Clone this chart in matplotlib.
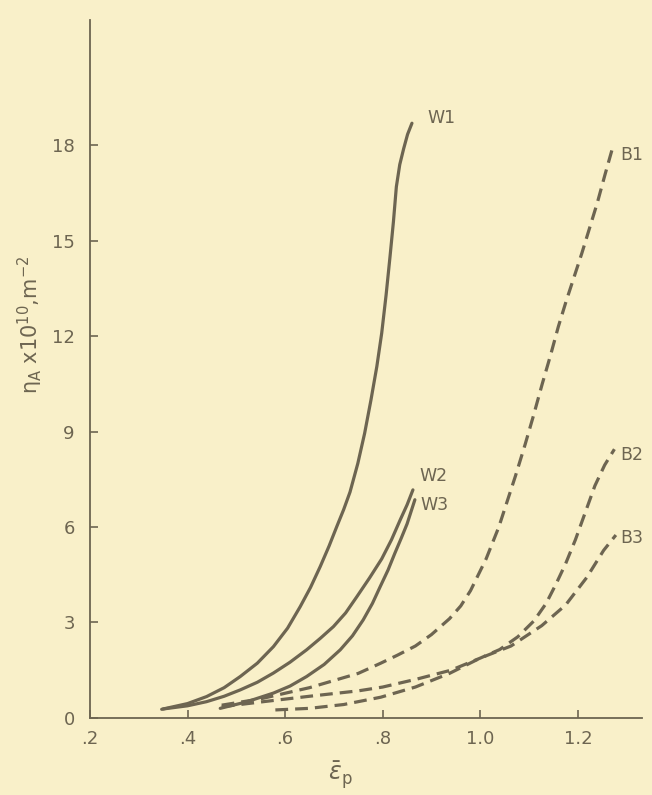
import matplotlib
matplotlib.use("Agg")
import matplotlib.pyplot as plt

# curves (x = strain, y = eta_A x 1e10)
w1_x = [0.347, 0.400, 0.439, 0.475, 0.508, 0.543, 0.576, 0.605, 0.631, 0.652, 0.672, 0.690, 0.706, 0.720, 0.733,
        0.749, 0.763, 0.776, 0.788, 0.798, 0.807, 0.815, 0.822, 0.828, 0.835, 0.843, 0.851, 0.860]
w1_y = [0.27, 0.45, 0.67, 0.95, 1.30, 1.72, 2.24, 2.82, 3.50, 4.10, 4.76, 5.40, 6.02, 6.55, 7.10,
        8.00, 8.95, 10.0, 11.05, 12.1, 13.3, 14.5, 15.6, 16.7, 17.4, 17.9, 18.35, 18.7]

w2_x = [0.350, 0.400, 0.439, 0.475, 0.508, 0.543, 0.576, 0.610, 0.644, 0.672, 0.699, 0.724, 0.747, 0.773, 0.798, 0.818, 0.836, 0.850, 0.862]
w2_y = [0.28, 0.38, 0.51, 0.68, 0.88, 1.12, 1.41, 1.75, 2.14, 2.50, 2.87, 3.30, 3.81, 4.40, 5.00, 5.60, 6.23, 6.70, 7.17]

w3_x = [0.467, 0.520, 0.576, 0.610, 0.644, 0.680, 0.713, 0.738, 0.760, 0.779, 0.795, 0.811, 0.825, 0.838, 0.850, 0.866]
w3_y = [0.30, 0.50, 0.78, 1.00, 1.30, 1.68, 2.14, 2.58, 3.08, 3.60, 4.13, 4.65, 5.18, 5.65, 6.10, 6.86]

b1_x = [0.47, 0.55, 0.65, 0.75, 0.796, 0.830, 0.867, 0.900, 0.937, 0.960, 0.980, 1.012, 1.038, 1.055, 1.072, 1.092, 1.109,
        1.127, 1.144, 1.160, 1.176, 1.192, 1.208, 1.224, 1.240, 1.256, 1.270]
b1_y = [0.40, 0.60, 0.95, 1.40, 1.72, 1.97, 2.26, 2.62, 3.12, 3.52, 4.00, 5.00, 6.00, 6.80, 7.60, 8.60, 9.50,
        10.5, 11.4, 12.3, 13.1, 13.85, 14.6, 15.4, 16.2, 17.1, 17.86]

b2_x = [0.47, 0.55, 0.65, 0.75, 0.80, 0.87, 0.94, 1.00, 1.04, 1.077, 1.11, 1.135, 1.155, 1.175, 1.195, 1.215, 1.235, 1.255, 1.275]
b2_y = [0.35, 0.50, 0.68, 0.85, 0.97, 1.22, 1.50, 1.88, 2.15, 2.55, 3.05, 3.60, 4.20, 4.85, 5.60, 6.45, 7.30, 7.95, 8.45]

b3_x = [0.58, 0.65, 0.72, 0.796, 0.867, 0.937, 1.00, 1.063, 1.126, 1.175, 1.218, 1.253, 1.278]
b3_y = [0.25, 0.30, 0.42, 0.65, 0.97, 1.40, 1.88, 2.26, 2.90, 3.55, 4.41, 5.27, 5.75]

names = ["W1", "W2", "W3", "B1", "B2", "B3"]
xs = [w1_x, w2_x, w3_x, b1_x, b2_x, b3_x]
ys = [w1_y, w2_y, w3_y, b1_y, b2_y, b3_y]
label_offsets = [(11, 4), (5, 10), (4, -4), (6, -4), (4, -4), (3, -2)]

xticks = [0.2, 0.4, 0.6, 0.8, 1.0, 1.2]
xtick_labels = [".2", ".4", ".6", ".8", "1.0", "1.2"]
yticks = [0, 3, 6, 9, 12, 15, 18]

paper = "#f9f0c9"
ink = "#6d6551"

fig = plt.figure(figsize=(6.52, 7.95), dpi=100, facecolor=paper)
ax = fig.add_axes([0.138, 0.097, 0.847, 0.878], facecolor=paper)

for name, x, y, off in zip(names, xs, ys, label_offsets):
    if name.startswith("W"):
        ax.plot(x, y, color=ink, lw=2.3, solid_capstyle="round", solid_joinstyle="round")
    else:
        ax.plot(x, y, color=ink, lw=2.3, dashes=(4, 2.2), dash_capstyle="butt",
                dash_joinstyle="round")
    ax.annotate(name, (x[-1], y[-1]), xytext=off, textcoords="offset points",
                color=ink, fontsize=12.5, va="center", ha="left")

ax.set_xlim(0.2, 1.332)
ax.set_ylim(0, 21.95)
ax.set_xticks(xticks)
ax.set_xticklabels(xtick_labels)
ax.set_yticks(yticks)
ax.tick_params(direction="in", length=6, width=1.2, color=ink, labelcolor=ink, labelsize=13)
ax.tick_params(axis="y", pad=11)
ax.tick_params(axis="x", pad=9)
for side in ["top", "right"]:
    ax.spines[side].set_visible(False)
for side in ["left", "bottom"]:
    ax.spines[side].set_color(ink)
    ax.spines[side].set_linewidth(1.3)

fig.text(30 / 652, 1 - 325 / 795, r"$\mathregular{\eta_A}$ x10$^{10}$,m$^{-2}$", rotation=90,
         color=ink, fontsize=15, ha="center", va="center")
fig.text(340 / 652, 1 - 775 / 795, r"$\bar{\epsilon}_\mathregular{p}$", color=ink, fontsize=17,
         ha="center", va="center")

fig.savefig("out.png", dpi=100, facecolor=paper)
